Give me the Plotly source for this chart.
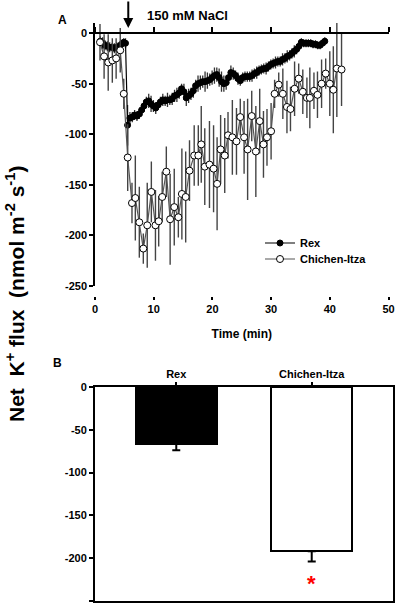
import plotly.graph_objects as go

# ---------------- Panel A data ----------------
rex_time = [0.9, 1.3, 1.7, 2.1, 2.5, 2.9, 3.3, 3.7, 4.1, 4.5, 4.9, 5.2, 5.55, 5.95, 6.35, 6.75,
            7.15, 7.55, 7.95, 8.35, 8.75, 9.15, 9.55, 9.95, 10.35, 10.75, 11.15, 11.55, 11.95,
            12.35, 12.75, 13.15, 13.55, 13.95, 14.35, 14.75, 15.15, 15.55, 15.95, 16.35, 16.75,
            17.15, 17.55, 17.95, 18.35, 18.75, 19.15, 19.55, 19.95, 20.35, 20.75, 21.15, 21.55,
            21.95, 22.35, 22.75, 23.15, 23.55, 23.95, 24.35, 24.75, 25.15, 25.55, 25.95, 26.35,
            26.75, 27.15, 27.55, 27.95, 28.35, 28.75, 29.15, 29.55, 29.95, 30.35, 30.75, 31.15,
            31.55, 31.95, 32.35, 32.75, 33.15, 33.55, 33.95, 34.35, 34.75, 35.15, 35.55, 35.95,
            36.35, 36.75, 37.15, 37.55, 37.95, 38.35, 38.75, 39.15]
rex_flux = [-8, -10, -12, -13, -14, -14, -15, -14, -13, -11, -9, -10, -91, -84, -83, -81,
            -82, -80, -76, -72, -68, -67, -70, -72, -74, -71, -68, -66, -67,
            -66, -66, -65, -62, -61, -59, -55, -58, -64, -62, -60, -57,
            -52, -50, -49, -48, -48, -47, -46, -44, -42, -41, -44, -48,
            -50, -49, -44, -39, -40, -42, -45, -47, -44, -43, -43, -43,
            -42, -40, -39, -37, -36, -35, -35, -33, -31, -30, -29, -28,
            -28, -26, -25, -23, -22, -20, -18, -16, -13, -9, -10, -10,
            -10, -10, -11, -11, -12, -12, -10, -8]
rex_err = [5, 6, 5, 5, 5, 4, 5, 5, 4, 4, 4, 5, 20, 6, 5, 5,
           5, 5, 6, 6, 5, 7, 8, 6, 6, 5, 5, 6, 5,
           7, 5, 6, 6, 7, 6, 5, 8, 8, 7, 6, 7,
           6, 8, 7, 6, 10, 8, 6, 7, 8, 7, 9, 10,
           8, 7, 6, 7, 6, 5, 6, 5, 5, 5, 5, 5,
           6, 5, 6, 5, 5, 5, 6, 5, 5, 5, 6, 5,
           5, 6, 5, 6, 5, 5, 6, 5, 5, 4, 4, 4,
           4, 4, 4, 4, 4, 4, 4, 4]

ci_time = [0.85, 1.55, 2.25, 2.95, 3.6, 4.3, 4.9, 5.57, 6.3, 6.87, 7.55, 8.23, 8.9, 9.6, 10.3,
           10.85, 11.45, 12.15, 12.8, 13.5, 14.2, 14.8, 15.45, 16.1, 16.9, 17.6, 18.1, 18.7,
           19.5, 20.2, 20.8, 21.4, 22.1, 22.66, 23.4, 24.1, 24.75, 25.4, 26.0, 26.7, 27.4,
           28.06, 28.7, 29.3, 30.0, 30.6, 31.3, 32.0, 32.7, 33.3, 34.0, 34.7, 35.4, 36.1,
           36.6, 37.3, 37.9, 38.6, 39.3, 40.0, 40.6, 41.2, 42.0]
ci_flux = [-9, -23, -29, -27, -25, -17, -60, -123, -168, -163, -187, -213, -190, -157, -190,
           -186, -162, -137, -184, -172, -182, -159, -162, -136, -121, -121, -110, -132,
           -130, -134, -149, -115, -121, -101, -103, -107, -83, -103, -115, -82, -117,
           -87, -110, -103, -97, -60, -51, -60, -73, -75, -55, -45, -58, -64,
           -64, -57, -61, -50, -40, -50, -56, -35, -36]
ci_err = [18, 22, 28, 22, 20, 22, 15, 33, 20, 42, 35, 15, 42, 30, 35,
          25, 25, 25, 45, 38, 20, 45, 45, 30, 30, 30, 38, 38,
          43, 43, 46, 34, 37, 23, 37, 33, 18, 36, 50, 25, 45,
          32, 33, 28, 28, 14, 12, 25, 26, 22, 27, 15, 22, 20,
          30, 18, 23, 24, 15, 32, 43, 48, 36]

time_ticks = [0, 10, 20, 30, 40, 50]
time_labels = ["0", "10", "20", "30", "40", "50"]
flux_ticks = [0, -50, -100, -150, -200, -250]
flux_labels = ["0", "-50", "-100", "-150", "-200", "-250"]

# ---------------- Panel B data ----------------
cultivars = ["Rex", "Chichen-Itza"]
mean_flux = [-66, -192]
mean_err = [8, 12]
bar_pos = [1, 2]
signif_y = -224

FONT = "Arial, Liberation Sans, sans-serif"
W, H = 397, 605


def px_x(p):
    return p / W


def px_y(p):
    return 1 - p / H


xa_dom = [px_x(95), px_x(388.5)]
ya_dom = [px_y(286), px_y(23)]
yr_a = [-250, 10]
top_axis_pos = ya_dom[0] + (0 - yr_a[0]) / (yr_a[1] - yr_a[0]) * (ya_dom[1] - ya_dom[0])

fig = go.Figure()

fig.add_trace(go.Scatter(
    x=rex_time, y=rex_flux, name="Rex", mode="lines+markers", legend="legend",
    line=dict(color="black", width=1.2),
    marker=dict(symbol="circle", size=6, color="black", line=dict(color="black", width=1)),
    error_y=dict(type="data", array=rex_err, color="#333333", thickness=1.3, width=0),
    xaxis="x", yaxis="y"))

fig.add_trace(go.Scatter(
    x=ci_time, y=ci_flux, name="Chichen-Itza", mode="lines+markers", legend="legend2",
    line=dict(color="#555555", width=1.2),
    marker=dict(symbol="circle", size=7, color="white", line=dict(color="black", width=1)),
    error_y=dict(type="data", array=ci_err, color="#444444", thickness=1.4, width=0),
    xaxis="x", yaxis="y"))

# helper trace for the top (y = 0) axis
fig.add_trace(go.Scatter(x=[None], y=[None], xaxis="x2", yaxis="y",
                         showlegend=False, hoverinfo="skip"))

fig.add_trace(go.Bar(
    x=bar_pos, y=mean_flux, width=0.6,
    marker=dict(color=["black", "white"], line=dict(color="black", width=2)),
    error_y=dict(type="data", symmetric=False, array=[0, 0], arrayminus=mean_err,
                 color="black", thickness=2, width=4),
    showlegend=False, xaxis="x3", yaxis="y3"))

axis_common = dict(showgrid=False, zeroline=False, linecolor="black", automargin=False,
                   tickcolor="black", tickfont=dict(size=11, family=FONT, color="black", weight="bold"))

legend_common = dict(xanchor="left", yanchor="middle", bgcolor="rgba(0,0,0,0)",
                     font=dict(size=11, family=FONT, weight="bold", color="black"),
                     itemwidth=30, borderwidth=0)

fig.update_layout(
    width=W, height=H,
    margin=dict(l=0, r=0, t=0, b=0, pad=0),
    plot_bgcolor="white", paper_bgcolor="white",
    font=dict(family=FONT, color="black", size=11, weight="bold"),
    xaxis=dict(domain=xa_dom, range=[0, 50], anchor="free", position=px_y(296),
               showline=False, ticks="outside", ticklen=3, tickwidth=1.5,
               tickvals=time_ticks, ticktext=time_labels,
               title=dict(text="Time (min)", standoff=15,
                          font=dict(size=12, family=FONT, weight="bold")),
               **axis_common),
    xaxis2=dict(overlaying="x", matches="x", range=[0, 50], anchor="free",
                position=top_axis_pos, side="top", showline=True, linewidth=1.5,
                ticks="outside", ticklen=5, tickwidth=1.5, tickvals=time_ticks,
                showticklabels=False, **axis_common),
    yaxis=dict(domain=ya_dom, range=yr_a, anchor="x", showline=True, linewidth=1.5,
               ticks="outside", ticklen=4, tickwidth=1.5, tickvals=flux_ticks,
               ticktext=flux_labels, **axis_common),
    xaxis3=dict(domain=[px_x(95), px_x(393)], range=[0.4, 2.6], anchor="y3", side="top",
                showline=True, linewidth=2, mirror=True, ticks="outside", ticklen=3,
                tickwidth=1.5, tickvals=bar_pos, ticktext=cultivars, **axis_common),
    yaxis3=dict(domain=[px_y(601), px_y(387)], range=[-250, 0], anchor="x3",
                showline=True, linewidth=2, mirror=True, ticks="outside", ticklen=4,
                tickwidth=1.5, tickvals=flux_ticks, ticktext=flux_labels, **axis_common),
    legend=dict(x=px_x(260), y=px_y(243), **legend_common),
    legend2=dict(x=px_x(260), y=px_y(259), **legend_common),
    showlegend=True,
    bargap=0,
)

ann_font = dict(family=FONT, color="black", weight="bold")
fig.add_annotation(x=5.67, y=5, xref="x", yref="y", ax=0, ay=-28, axref="pixel", ayref="pixel",
                   showarrow=True, arrowhead=2, arrowsize=1, arrowwidth=2, arrowcolor="black",
                   text="")
fig.add_annotation(x=px_x(187), y=px_y(16), xref="paper", yref="paper", showarrow=False,
                   xanchor="center", yanchor="middle",
                   text="150 mM NaCl", font=dict(size=13, **ann_font))
fig.add_annotation(x=px_x(62), y=px_y(20), xref="paper", yref="paper", showarrow=False,
                   xanchor="center", yanchor="middle",
                   text="A", font=dict(size=12, **ann_font))
fig.add_annotation(x=px_x(57), y=px_y(363), xref="paper", yref="paper", showarrow=False,
                   xanchor="center", yanchor="middle",
                   text="B", font=dict(size=12, **ann_font))
fig.add_annotation(x=px_x(15), y=px_y(294), xref="paper", yref="paper", showarrow=False,
                   xanchor="center", yanchor="middle", textangle=-90,
                   text="Net  K<sup>+</sup> flux  (nmol m<sup>-2</sup> s<sup>-1</sup>)",
                   font=dict(size=21, **ann_font))
fig.add_annotation(x=bar_pos[1], y=signif_y, xref="x3", yref="y3", showarrow=False,
                   xanchor="center", yanchor="middle", yshift=-5,
                   text="*", font=dict(size=22, family=FONT, color="red", weight="bold"))

fig.write_html("out.html", config={"displayModeBar": False},
               post_script="document.body.style.margin='0px';document.body.style.padding='0px';")
